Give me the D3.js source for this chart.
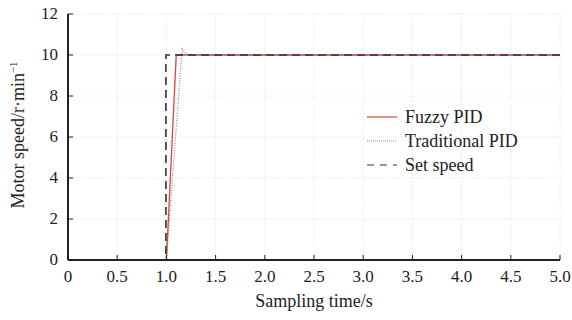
<!doctype html>
<html lang="en">
  <head>
    <meta charset="utf-8">
    <title>Motor speed response</title>
    <script src="https://d3js.org/d3.v7.min.js"></script>
    <style>
      body { margin: 0; background: #fff; }
      svg text { font-family: "Times New Roman", "Liberation Serif", Tinos, "DejaVu Serif", serif; fill: #222; }
    </style>
  </head>
  <body>
    <div id="chart"></div>
    <script>
    // Data
    var xTicks = [0, 0.5, 1.0, 1.5, 2.0, 2.5, 3.0, 3.5, 4.0, 4.5, 5.0];
    var yTicks = [0, 2, 4, 6, 8, 10, 12];
    var fuzzyPid = [[0, 0], [1.0, 0], [1.1, 10.0], [5.0, 10.0]];
    var traditionalPid = [[0, 0], [1.0, 0], [1.16, 10.3], [1.2, 10.05], [1.3, 10.0], [5.0, 10.0]];
    var setSpeed = [[0, 0], [0.995, 0], [0.995, 10], [5.0, 10]];
    var legendNames = ["Fuzzy PID", "Traditional PID", "Set speed"];

    var serif = '"Times New Roman", "Liberation Serif", Tinos, "DejaVu Serif", serif';
    var width = 572, height = 320;
    var margin = {left: 68, right: 12, top: 14, bottom: 60};

    var svg = d3.select('#chart').append('svg')
        .attr('width', width)
        .attr('height', height);

    var x = d3.scaleLinear().domain([0, 5]).range([margin.left, width - margin.right]);
    var y = d3.scaleLinear().domain([0, 12]).range([height - margin.bottom, margin.top]);

    // grid
    svg.append('g').selectAll('line.vg')
        .data(xTicks.slice(1))
        .enter().append('line')
        .attr('x1', function(d) { return x(d); })
        .attr('x2', function(d) { return x(d); })
        .attr('y1', y(0)).attr('y2', y(12))
        .attr('stroke', '#e2e2e2')
        .attr('stroke-dasharray', '1,1.5');
    svg.append('g').selectAll('line.hg')
        .data(yTicks.slice(1))
        .enter().append('line')
        .attr('x1', x(0)).attr('x2', x(5))
        .attr('y1', function(d) { return y(d); })
        .attr('y2', function(d) { return y(d); })
        .attr('stroke', '#e2e2e2')
        .attr('stroke-dasharray', '1,1.5');

    // lines
    var line = d3.line()
        .x(function(d) { return x(d[0]); })
        .y(function(d) { return y(d[1]); });

    svg.append('path').datum(traditionalPid)
        .attr('d', line).attr('fill', 'none')
        .attr('stroke', '#8790b8').attr('stroke-width', 1.3)
        .attr('stroke-dasharray', '1,1.5');
    svg.append('path').datum(fuzzyPid)
        .attr('d', line).attr('fill', 'none')
        .attr('stroke', '#d8463c').attr('stroke-width', 1.3);
    svg.append('path').datum(setSpeed)
        .attr('d', line).attr('fill', 'none')
        .attr('stroke', '#333').attr('stroke-width', 1.6)
        .attr('stroke-dasharray', '8,5');

    // axes (drawn over the lines so the zero segment sits under the axis)
    var xAxis = svg.append('g')
        .attr('transform', 'translate(0,' + y(0) + ')')
        .call(d3.axisBottom(x).tickValues(xTicks).offset(0)
            .tickFormat(function(d) { return d === 0 ? '0' : d3.format('.1f')(d); })
            .tickSizeInner(-5).tickSizeOuter(0).tickPadding(10));
    var yAxis = svg.append('g')
        .attr('transform', 'translate(' + x(0) + ',0)')
        .call(d3.axisLeft(y).tickValues(yTicks).offset(0)
            .tickSizeInner(-5).tickSizeOuter(0).tickPadding(10));
    [xAxis, yAxis].forEach(function(a) {
        a.attr('font-family', serif).attr('font-size', 17);
        a.select('.domain').attr('stroke', '#222').attr('stroke-width', 2);
        a.selectAll('.tick line').attr('stroke', '#222');
        a.selectAll('.tick text').attr('fill', '#222');
    });

    // legend
    var legendStyles = [
        {stroke: '#d8463c', dash: null, w: 1.2},
        {stroke: '#8790b8', dash: '1,1', w: 1},
        {stroke: '#333', dash: '7,6', w: 1.2}
    ];
    var legend = svg.append('g').attr('transform', 'translate(367,117)');
    legend.selectAll('line')
        .data(legendNames)
        .enter().append('line')
        .attr('x1', 0).attr('x2', 30)
        .attr('y1', function(d, i) { return i * 24; })
        .attr('y2', function(d, i) { return i * 24; })
        .attr('stroke', function(d, i) { return legendStyles[i].stroke; })
        .attr('stroke-width', function(d, i) { return legendStyles[i].w; })
        .attr('stroke-dasharray', function(d, i) { return legendStyles[i].dash; });
    legend.selectAll('text')
        .data(legendNames)
        .enter().append('text')
        .attr('x', 38)
        .attr('y', function(d, i) { return i * 24; })
        .attr('dy', '0.35em')
        .style('font-size', '18px')
        .text(function(d) { return d; });

    // axis titles
    svg.append('text')
        .attr('x', x(2.5))
        .attr('y', 307)
        .attr('text-anchor', 'middle')
        .style('font-size', '18px')
        .text('Sampling time/s');

    var yt = svg.append('text')
        .attr('transform', 'translate(24,' + (y(6) - 2) + ')rotate(-90)')
        .attr('text-anchor', 'middle')
        .style('font-size', '18px');
    yt.append('tspan').text('Motor speed/r\u00b7min');
    yt.append('tspan').attr('dy', -7).style('font-size', '11px').text('\u22121');
    </script>
  </body>
</html>
